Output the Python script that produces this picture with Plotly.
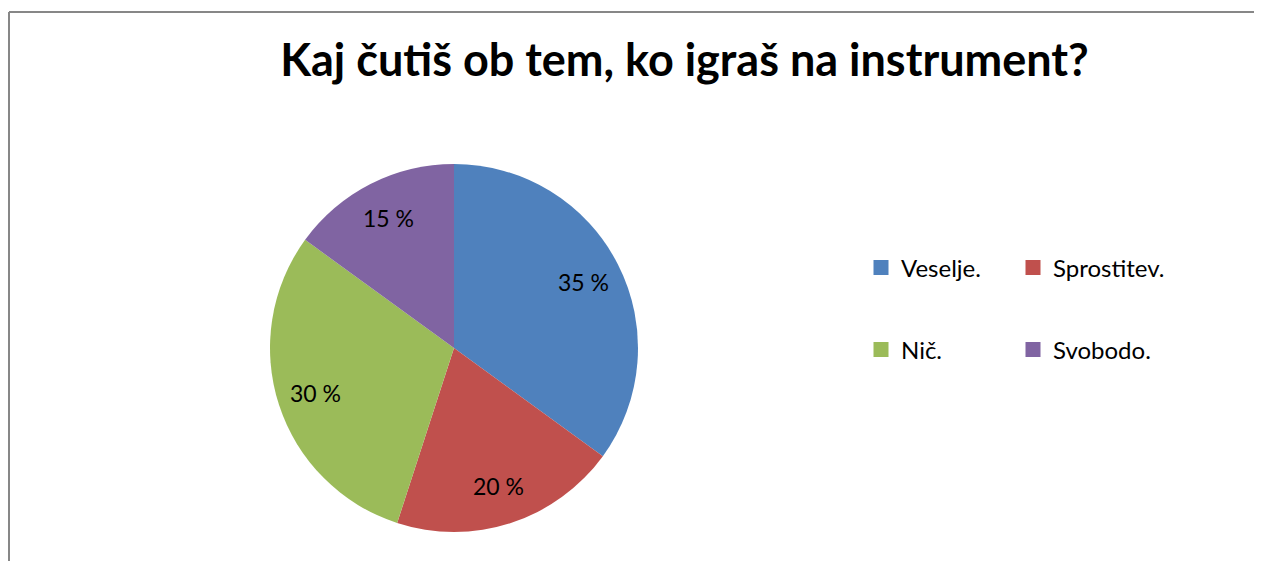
import math
import plotly.graph_objects as go

labels = ["Veselje.", "Sprostitev.", "Nič.", "Svobodo."]
values = [35, 20, 30, 15]
colors = ["#4F81BD", "#C0504D", "#9BBB59", "#8064A2"]
title_text = "Kaj čutiš ob tem, ko igraš na instrument?"

# page has an 8px body margin
W, H = 1254, 553
FONT = "Lato"

fig = go.Figure()

# pie geometry (figure pixel coords)
cx, cy, r = 446, 340, 184
fig.add_trace(go.Pie(
    labels=labels, values=values, sort=False, direction="clockwise", rotation=0,
    marker=dict(colors=colors, line=dict(width=0)),
    textinfo="none",
    domain=dict(x=[(cx - r) / W, (cx + r) / W], y=[1 - (cy + r) / H, 1 - (cy - r) / H]),
    showlegend=False, hoverinfo="label+percent",
))

# data labels placed at slice mid-angles (~0.79 of the radius), like the original
annotations = []
total = sum(values)
cum = 0
for v in values:
    mid = (cum + v / 2) / total * 2 * math.pi
    cum += v
    lx = cx + 0.79 * r * math.sin(mid)
    ly = cy - 0.79 * r * math.cos(mid)
    annotations.append(dict(
        x=lx / W, y=1 - ly / H, xref="paper", yref="paper",
        text=f"{v} %", showarrow=False, xanchor="center", yanchor="middle",
        font=dict(family=FONT, size=23, color="black"),
    ))

# legend entries (2x2 grid via two legends)
for i, (lab, col) in enumerate(zip(labels, colors)):
    fig.add_trace(go.Scatter(
        x=[None], y=[None], mode="markers", name=lab,
        marker=dict(symbol="square", size=15, color=col),
        legend="legend" if i < 2 else "legend2", showlegend=True,
    ))

legend_common = dict(orientation="h", xanchor="left", yanchor="middle",
                     font=dict(family=FONT, size=24, color="black"),
                     entrywidth=107, entrywidthmode="pixels",
                     bgcolor="rgba(0,0,0,0)", itemclick=False, itemdoubleclick=False)

fig.update_layout(
    width=W, height=H,
    margin=dict(l=0, r=0, t=0, b=0),
    paper_bgcolor="white", plot_bgcolor="white",
    title=dict(text="<b>" + title_text + "</b>", x=676.5 / W, xanchor="center",
               y=1 - 52.5 / H, yanchor="middle", yref="container",
               font=dict(family=FONT, size=45, color="black")),
    xaxis=dict(visible=False), yaxis=dict(visible=False),
    legend=dict(x=853 / W, y=1 - 260 / H, **legend_common),
    legend2=dict(x=853 / W, y=1 - 342 / H, **legend_common),
    annotations=annotations,
    shapes=[
        dict(type="line", xref="paper", yref="paper",
             x0=1 / W, x1=1.2, y0=1 - 4 / H, y1=1 - 4 / H,
             line=dict(color="#878787", width=2)),
        dict(type="line", xref="paper", yref="paper",
             x0=1 / W, x1=1 / W, y0=-0.2, y1=1 - 4 / H,
             line=dict(color="#878787", width=2)),
    ],
)

fig.write_html(
    "out.html",
    post_script="document.documentElement.style.overflow='hidden';document.body.style.overflow='hidden';",
)
